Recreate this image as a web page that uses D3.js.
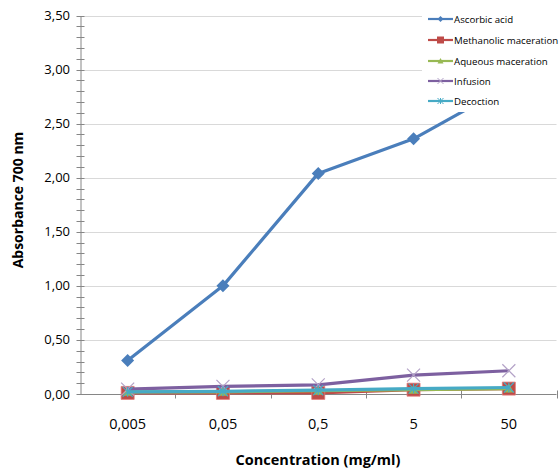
<!DOCTYPE html>
<html><head><meta charset="utf-8">
<script src="https://cdn.jsdelivr.net/npm/d3@7"></script>
<style>html,body{margin:0;padding:0;background:#fff;} svg{display:block;}</style>
</head><body>
<script>
const categories = ["0,005", "0,05", "0,5", "5", "50"];
const seriesNames = ["Ascorbic acid", "Methanolic maceration", "Aqueous maceration", "Infusion", "Decoction"];
const ascorbic = [0.31, 1.00, 2.04, 2.36, 2.85];
const methanolic = [0.01, 0.01, 0.01, 0.04, 0.05];
const aqueous = [0.02, 0.02, 0.03, 0.04, 0.05];
const infusion = [0.045, 0.07, 0.085, 0.175, 0.215];
const decoction = [0.02, 0.025, 0.035, 0.05, 0.06];
const yTicks = [0, 0.5, 1, 1.5, 2, 2.5, 3, 3.5];
const yTickLabels = ["0,00", "0,50", "1,00", "1,50", "2,00", "2,50", "3,00", "3,50"];
const colors = ["#4A7EBB", "#BE4B48", "#98B954", "#7D60A0", "#46AAC5"];
const markers = ["diamond", "square", "triangle", "x", "star"];

const W = 559, H = 470;
const m = {left: 80, right: 2.5, top: 15.5, bottom: 76};
const svg = d3.select("body").append("svg").attr("width", W).attr("height", H);
const x = d3.scaleBand().domain(categories).range([m.left, W - m.right]);
const y = d3.scaleLinear().domain([0, 3.5]).range([H - m.bottom, m.top]);
const font = "'Open Sans', 'Liberation Sans', sans-serif";

// gridlines
svg.append("g").selectAll("line").data(yTicks.slice(1)).join("line")
  .attr("x1", m.left).attr("x2", W - m.right)
  .attr("y1", d => Math.round(y(d)) + 0.5).attr("y2", d => Math.round(y(d)) + 0.5)
  .attr("stroke", "#D9D9D9").attr("stroke-width", 1);

// y axis
const yAxis = d3.axisLeft(y).tickValues(d3.range(0, 35.01, 1).map(v => v / 10)).tickFormat("").tickSizeInner(4).tickSizeOuter(0);
const gy = svg.append("g").attr("transform", `translate(${m.left + 0.5},0)`).call(yAxis);
gy.selectAll(".tick line").attr("x2", 4).attr("x1", -4).attr("stroke", "#868686");
gy.select(".domain").attr("stroke", "#868686");
gy.selectAll(".tick").attr("transform", d => `translate(0,${Math.round(y(d)) + 0.5})`);
svg.append("g").selectAll("text").data(yTicks).join("text")
  .attr("x", 70).attr("y", d => y(d) + 4.5).attr("text-anchor", "end")
  .attr("font-family", font).attr("font-size", 13).attr("fill", "#000")
  .text((d, i) => yTickLabels[i]);

// x axis
const gx = svg.append("g").attr("transform", `translate(0,${Math.round(y(0)) + 0.5})`);
gx.append("line").attr("x1", m.left).attr("x2", W - m.right).attr("stroke", "#868686");
const bounds = categories.map(c => x(c)).concat([x(categories[categories.length - 1]) + x.bandwidth()]);
gx.selectAll(".tk").data(bounds.slice(1)).join("line").attr("class", "tk")
  .attr("x1", d => Math.round(d) + 0.5).attr("x2", d => Math.round(d) + 0.5)
  .attr("y1", -4).attr("y2", 4).attr("stroke", "#868686");
svg.append("g").selectAll("text").data(categories).join("text")
  .attr("x", d => x(d) + x.bandwidth() / 2).attr("y", 428.5)
  .attr("text-anchor", "middle").attr("font-family", font).attr("font-size", 14.5)
  .text(d => d);

// axis titles
svg.append("text").attr("x", 318).attr("y", 465).attr("text-anchor", "middle")
  .attr("font-family", font).attr("font-weight", "bold").attr("font-size", 14.5)
  .text("Concentration (mg/ml)");
svg.append("text").attr("transform", "translate(23,200) rotate(-90)").attr("text-anchor", "middle")
  .attr("font-family", font).attr("font-weight", "bold").attr("font-size", 14)
  .text("Absorbance 700 nm");

function markerPath(type, s) {
  const h = s / 2;
  switch (type) {
    case "diamond": return `M0,${-h}L${h},0L0,${h}L${-h},0Z`;
    case "square": return `M${-h},${-h}H${h}V${h}H${-h}Z`;
    case "triangle": return `M0,${-h}L${h},${h * 0.8}L${-h},${h * 0.8}Z`;
    case "x": return `M${-h},${-h}L${h},${h}M${-h},${h}L${h},${-h}`;
    case "star": return `M${-h},${-h}L${h},${h}M${-h},${h}L${h},${-h}M0,${-h}V${h}`;
  }
}
const allSeries = [ascorbic, methanolic, aqueous, infusion, decoction];
const cx = c => x(c) + x.bandwidth() / 2;
const line = d3.line().x((d, i) => cx(categories[i])).y(d => y(d));
const sizes = [13, 13, 10, 13, 10];

const plot = svg.append("g");
allSeries.forEach((vals, k) => {
  const g = plot.append("g");
  g.append("path").attr("d", line(vals)).attr("fill", "none")
    .attr("stroke", colors[k]).attr("stroke-width", 3.2).attr("stroke-linejoin", "round");
  const stroked = markers[k] === "x" || markers[k] === "star";
  g.selectAll("path.mk").data(vals).join("path").attr("class", "mk")
    .attr("transform", (d, i) => `translate(${cx(categories[i])},${y(d)})`)
    .attr("d", markerPath(markers[k], sizes[k]))
    .attr("fill", stroked ? "none" : colors[k])
    .attr("stroke", stroked ? (markers[k] === "x" ? "#B3A2C7" : colors[k]) : (k === 1 ? "#E07A77" : "none"))
    .attr("stroke-width", stroked ? 1.2 : 0.8);
});

// legend
const lg = svg.append("g");
lg.append("rect").attr("x", 422).attr("y", 0).attr("width", W - 422).attr("height", 112).attr("fill", "#fff");
const lys = [19, 40, 61, 81, 101];
seriesNames.forEach((name, k) => {
  const gy2 = lys[k];
  lg.append("line").attr("x1", 428).attr("x2", 453).attr("y1", gy2).attr("y2", gy2)
    .attr("stroke", colors[k]).attr("stroke-width", 2.2);
  const stroked = markers[k] === "x" || markers[k] === "star";
  lg.append("path").attr("transform", `translate(440.5,${gy2})`)
    .attr("d", markerPath(markers[k], k === 1 ? 7 : 6))
    .attr("fill", stroked ? "none" : colors[k])
    .attr("stroke", stroked ? (markers[k] === "x" ? "#B3A2C7" : colors[k]) : "none")
    .attr("stroke-width", 1);
  lg.append("text").attr("x", 454).attr("y", gy2 + 3.5)
    .attr("font-family", font).attr("font-size", 9.7).attr("fill", "#000")
    .text(name);
});
</script>
</body></html>
